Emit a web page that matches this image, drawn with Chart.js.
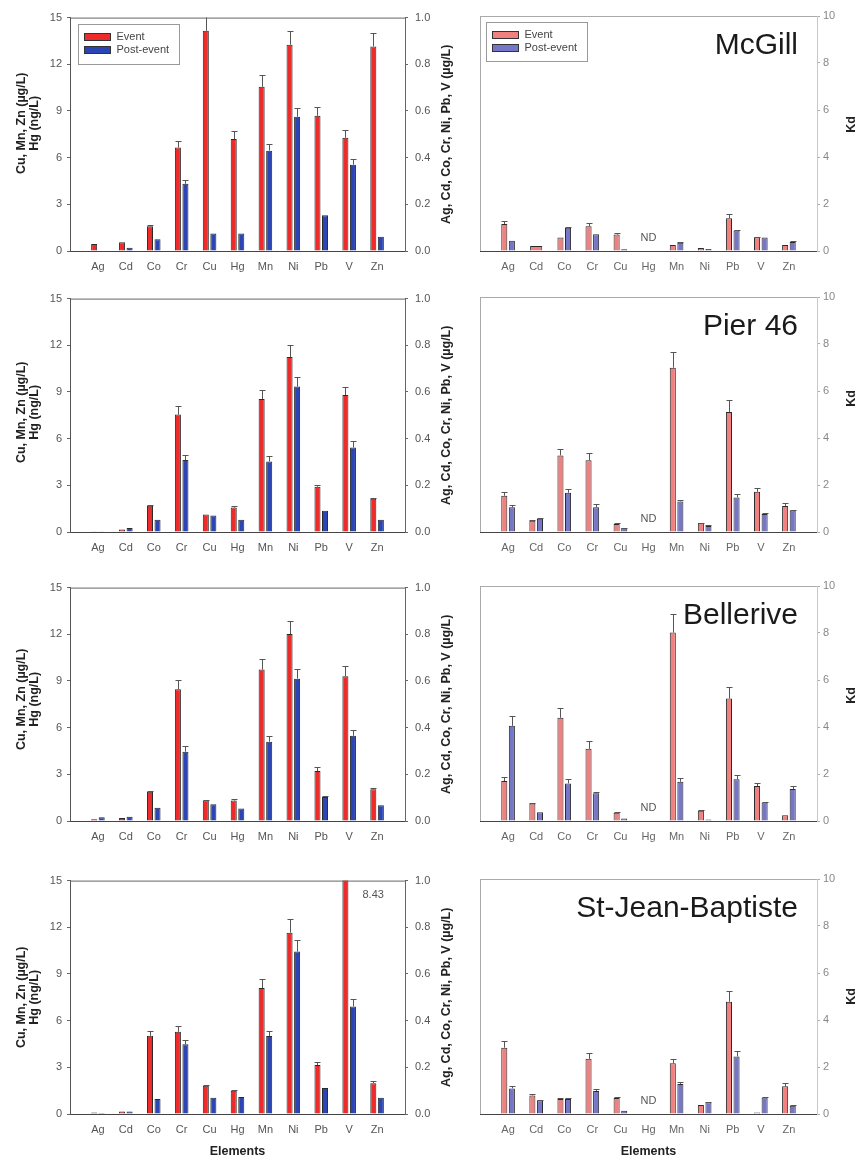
<!DOCTYPE html>
<html>
<head>
<meta charset="utf-8">
<script src="https://cdn.jsdelivr.net/npm/chart.js@4.4.0/dist/chart.umd.min.js"></script>
<style>
  body { margin: 0; background: #fff; width: 858px; height: 1159px; position: relative; overflow: hidden; }
  canvas { position: absolute; }
</style>
</head>
<body>
<canvas id="conc0" width="462" height="277" style="left:0;top:4px"></canvas>
<canvas id="kd0" width="396" height="277" style="left:462px;top:4px"></canvas>
<canvas id="conc1" width="462" height="277" style="left:0;top:285px"></canvas>
<canvas id="kd1" width="396" height="277" style="left:462px;top:285px"></canvas>
<canvas id="conc2" width="462" height="277" style="left:0;top:574px"></canvas>
<canvas id="kd2" width="396" height="277" style="left:462px;top:574px"></canvas>
<canvas id="conc3" width="462" height="292" style="left:0;top:867px"></canvas>
<canvas id="kd3" width="396" height="292" style="left:462px;top:867px"></canvas>
<script>
const elements = ['Ag', 'Cd', 'Co', 'Cr', 'Cu', 'Hg', 'Mn', 'Ni', 'Pb', 'V', 'Zn'];
// these four are read on the left axis (Cu, Mn, Zn in µg/L, Hg in ng/L), the rest on the right one (µg/L)
const leftAxisElements = ['Cu', 'Hg', 'Mn', 'Zn'];
const concTicks = [0, 3, 6, 9, 12, 15];
const concTicksRight = [0, 0.2, 0.4, 0.6, 0.8, 1.0];
const kdTicks = [0, 2, 4, 6, 8, 10];

// McGill
const mcgillEvent     = [0.030, 0.038, 0.106, 0.443, 14.15, 7.19, 10.55, 0.884, 0.579, 0.485, 13.15];
const mcgillEventErr  = [0, 0, 0.004, 0.030, 1.0, 0.51, 0.73, 0.059, 0.038, 0.035, 0.89];
const mcgillPost      = [0.002, 0.014, 0.050, 0.288, 1.13, 1.13, 6.45, 0.575, 0.153, 0.370, 0.91];
const mcgillPostErr   = [0, 0, 0, 0.017, 0, 0, 0.42, 0.039, 0, 0.024, 0];
const mcgillKdEvent    = [1.15, 0.21, 0.57, 1.05, 0.70, null, 0.26, 0.13, 1.39, 0.58, 0.26];
const mcgillKdEventErr = [0.14, 0, 0, 0.13, 0.08, 0, 0, 0, 0.17, 0.03, 0];
const mcgillKdPost     = [0.44, null, 0.99, 0.71, 0.07, null, 0.35, 0.08, 0.87, 0.57, 0.38];
const mcgillKdPostErr  = [0, 0, 0.03, 0, 0, 0, 0.03, 0, 0.03, 0, 0.03];

// Pier 46
const pierEvent     = [0.003, 0.011, 0.112, 0.503, 1.13, 1.57, 8.55, 0.750, 0.194, 0.587, 2.13];
const pierEventErr  = [0, 0, 0.003, 0.036, 0, 0.13, 0.60, 0.051, 0.006, 0.036, 0.08];
const pierPost      = [0.003, 0.017, 0.052, 0.308, 1.06, 0.79, 4.53, 0.623, 0.091, 0.362, 0.79];
const pierPostErr   = [0, 0, 0, 0.022, 0, 0, 0.34, 0.041, 0, 0.028, 0];
const pierKdEvent    = [1.54, 0.48, 3.26, 3.05, 0.34, null, 6.99, 0.38, 5.11, 1.71, 1.11];
const pierKdEventErr = [0.17, 0.03, 0.29, 0.31, 0.03, 0, 0.69, 0.02, 0.52, 0.17, 0.12];
const pierKdPost     = [1.05, 0.56, 1.67, 1.05, 0.17, null, 1.30, 0.26, 1.47, 0.77, 0.91];
const pierKdPostErr  = [0.09, 0.02, 0.17, 0.13, 0.02, 0, 0.08, 0.02, 0.15, 0.03, 0.04];

// Bellerive
const bellEvent     = [0.007, 0.013, 0.125, 0.564, 1.32, 1.32, 9.73, 0.801, 0.214, 0.620, 2.04];
const bellEventErr  = [0, 0, 0.002, 0.039, 0.02, 0.12, 0.70, 0.057, 0.017, 0.043, 0.09];
const bellPost      = [0.016, 0.018, 0.057, 0.297, 1.08, 0.81, 5.10, 0.610, 0.103, 0.365, 1.02];
const bellPostErr   = [0, 0, 0, 0.023, 0, 0, 0.34, 0.043, 0.004, 0.027, 0];
const bellKdEvent    = [1.70, 0.75, 4.39, 3.07, 0.35, null, 8.02, 0.44, 5.21, 1.49, 0.25];
const bellKdEventErr = [0.18, 0.03, 0.43, 0.33, 0.02, 0, 0.78, 0.02, 0.48, 0.11, 0];
const bellKdPost     = [4.05, 0.37, 1.60, 1.18, 0.11, null, 1.67, 0.06, 1.78, 0.79, 1.36];
const bellKdPostErr  = [0.41, 0, 0.18, 0.07, 0, 0, 0.17, 0, 0.17, 0.03, 0.11];

// St-Jean-Baptiste (V event = 8.43 µg/L, off scale)
const sjbEvent     = [0.006, 0.011, 0.335, 0.352, 1.81, 1.49, 8.09, 0.777, 0.210, 8.43, 1.98];
const sjbEventErr  = [0, 0, 0.022, 0.024, 0.03, 0.04, 0.59, 0.057, 0.014, 0, 0.15];
const sjbPost      = [0.004, 0.011, 0.064, 0.299, 1.04, 1.09, 5.02, 0.696, 0.111, 0.461, 1.04];
const sjbPostErr   = [0, 0, 0, 0.020, 0, 0, 0.34, 0.049, 0, 0.031, 0];
const sjbKdEvent    = [2.82, 0.79, 0.64, 2.35, 0.68, null, 2.16, 0.38, 4.78, 0.06, 1.18];
const sjbKdEventErr = [0.29, 0.08, 0.02, 0.25, 0.04, 0, 0.19, 0, 0.45, 0, 0.14];
const sjbKdPost     = [1.09, 0.58, 0.64, 0.98, 0.14, null, 1.28, 0.50, 2.45, 0.70, 0.35];
const sjbKdPostErr  = [0.11, 0.02, 0.03, 0.08, 0, 0, 0.10, 0.03, 0.23, 0.03, 0.03];

const FONT = '"Liberation Sans", Arial, Helvetica, sans-serif';
Chart.defaults.font.family = FONT;
Chart.defaults.font.size = 11;
Chart.defaults.animation = false;

// split one series into the part drawn on the left axis and the part on the right axis
function onAxis(values, left) {
    return values.map((v, i) => leftAxisElements.includes(elements[i]) === left ? v : null);
}

// leave one empty slot on each side of the elements, like the original figure
function padCategories(scale) {
    scale._startValue = -1;
    scale._valueRange = scale.getLabels().length + 1;
}

function bar(label, data, errors, color, axis) {
    return {
        label, data, errors, yAxisID: axis,
        backgroundColor: color, borderColor: '#2a2a2a', borderWidth: 1,
        categoryPercentage: 0.54, barPercentage: 0.8, skipNull: true, clip: 0
    };
}

function vText(ctx, text, x, y) {
    ctx.save();
    ctx.translate(x, y);
    ctx.rotate(-Math.PI / 2);
    ctx.textAlign = 'center';
    ctx.textBaseline = 'middle';
    ctx.fillText(text, 0, 0);
    ctx.restore();
}

function decor(spec) {
    return {
        id: 'decor',
        afterDatasetsDraw(chart) {
            const { ctx, chartArea: a } = chart;
            ctx.save();
            ctx.beginPath();
            ctx.rect(a.left, a.top, a.right - a.left, a.bottom - a.top);
            ctx.clip();
            ctx.strokeStyle = '#555';
            ctx.lineWidth = 1;
            chart.data.datasets.forEach((ds, di) => {
                const meta = chart.getDatasetMeta(di);
                const scale = chart.scales[ds.yAxisID];
                meta.data.forEach((el, i) => {
                    const v = ds.data[i], e = ds.errors[i];
                    if (v == null || !e) return;
                    const x = Math.round(el.x) + 0.5;
                    const yErr = Math.round(scale.getPixelForValue(v + e)) + 0.5;
                    ctx.beginPath();
                    ctx.moveTo(x, el.y);
                    ctx.lineTo(x, yErr);
                    ctx.moveTo(x - 3, yErr);
                    ctx.lineTo(x + 3, yErr);
                    ctx.stroke();
                });
            });
            ctx.restore();
        },
        afterDraw(chart) {
            const { ctx, chartArea: a } = chart;
            const midY = (a.top + a.bottom) / 2;
            const xScale = chart.scales.x;
            ctx.save();

            ctx.lineWidth = 1;
            ctx.strokeStyle = spec.frame;
            ctx.beginPath();
            ctx.moveTo(a.left, a.top + 0.5);
            ctx.lineTo(a.right, a.top + 0.5);
            if (spec.leftLine) {
                ctx.moveTo(a.left + 0.5, a.top);
                ctx.lineTo(a.left + 0.5, a.bottom);
            }
            ctx.stroke();

            ctx.fillStyle = '#222';
            ctx.font = 'bold 12.5px ' + FONT;
            if (spec.leftTitle) {
                spec.leftTitle.forEach((t, k) => vText(ctx, t, spec.leftTitleX[k], midY + spec.leftShift));
            }
            if (spec.rightTitle) vText(ctx, spec.rightTitle, spec.rightTitleX, midY + (spec.rightShift || 0));
            if (spec.xTitle) {
                ctx.textAlign = 'center';
                ctx.textBaseline = 'middle';
                ctx.fillText(spec.xTitle, (a.left + a.right) / 2, a.bottom + 38);
            }

            if (spec.station) {
                ctx.font = '30px ' + FONT;
                ctx.fillStyle = '#1a1a1a';
                ctx.textAlign = 'right';
                ctx.textBaseline = 'alphabetic';
                ctx.fillText(spec.station, a.right - 19, a.top + 38);
            }

            ctx.font = '11px ' + FONT;
            ctx.fillStyle = '#555';
            ctx.textAlign = 'center';
            ctx.textBaseline = 'middle';
            if (spec.nd) ctx.fillText('ND', xScale.getPixelForValue(elements.indexOf(spec.nd)), a.bottom - 13);
            if (spec.note) {
                const n = spec.note;
                ctx.fillText(n.text, xScale.getPixelForValue(elements.indexOf(n.cat)) + n.dx, a.top + n.dy);
            }

            if (spec.legend) {
                const L = spec.legend;
                const x0 = Math.round(a.left + L.dx) + 0.5, y0 = Math.round(a.top + L.dy) + 0.5;
                ctx.strokeStyle = '#999';
                ctx.strokeRect(x0, y0, L.w, L.h);
                const sets = chart.data.datasets;
                [sets[0], sets[sets.length - 1]].forEach((ds, k) => {
                    const cy = Math.round(y0 + 12 + k * 13);
                    ctx.fillStyle = ds.backgroundColor;
                    ctx.fillRect(x0 + 6, cy - 3.5, 26, 7);
                    ctx.strokeStyle = '#333';
                    ctx.strokeRect(x0 + 6, cy - 3.5, 26, 7);
                    ctx.fillStyle = '#444';
                    ctx.textAlign = 'left';
                    ctx.fillText(ds.label, x0 + 38, cy);
                });
            }
            ctx.restore();
        }
    };
}

function xAxis(height, color) {
    return {
        offset: false,
        afterBuildTicks: padCategories,
        afterFit: s => { s.height = height; },
        grid: { display: false, drawTicks: false },
        border: { color: '#444' },
        ticks: { color, padding: 9, font: { size: 11 } }
    };
}

function concChart(id, event, eventErr, post, postErr, spec, xHeight) {
    new Chart(document.getElementById(id), {
        type: 'bar',
        data: {
            labels: elements,
            datasets: [
                bar('Event', onAxis(event, true), onAxis(eventErr, true), '#ee2b2b', 'y'),
                bar('Event', onAxis(event, false), onAxis(eventErr, false), '#ee2b2b', 'y2'),
                bar('Post-event', onAxis(post, true), onAxis(postErr, true), '#2b46b4', 'y'),
                bar('Post-event', onAxis(post, false), onAxis(postErr, false), '#2b46b4', 'y2')
            ]
        },
        options: {
            responsive: false,
            layout: { padding: { top: 12, left: 0, right: 0, bottom: 0 } },
            plugins: { legend: { display: false }, tooltip: { enabled: false } },
            scales: {
                x: xAxis(xHeight, '#555'),
                y: {
                    position: 'left', min: concTicks[0], max: concTicks[concTicks.length - 1],
                    afterBuildTicks: s => { s.ticks = concTicks.map(value => ({ value })); },
                    afterFit: s => { s.width = 70; },
                    grid: { drawOnChartArea: false, tickLength: 3, color: '#666' },
                    border: { color: '#555' },
                    ticks: { color: '#555', padding: 5 }
                },
                y2: {
                    position: 'right', min: concTicksRight[0], max: concTicksRight[concTicksRight.length - 1],
                    afterBuildTicks: s => { s.ticks = concTicksRight.map(value => ({ value })); },
                    afterFit: s => { s.width = 57; },
                    grid: { drawOnChartArea: false, tickLength: 3, color: '#666' },
                    border: { color: '#666' },
                    ticks: { color: '#555', padding: 7, callback: v => v.toFixed(1) }
                }
            }
        },
        plugins: [decor(spec)]
    });
}

function kdChart(id, event, eventErr, post, postErr, spec, xHeight) {
    new Chart(document.getElementById(id), {
        type: 'bar',
        data: {
            labels: elements,
            datasets: [
                bar('Event', event, eventErr, '#f2807e', 'y'),
                bar('Post-event', post, postErr, '#7676c8', 'y')
            ]
        },
        options: {
            responsive: false,
            layout: { padding: { top: 12, left: 18, right: 0, bottom: 0 } },
            plugins: { legend: { display: false }, tooltip: { enabled: false } },
            scales: {
                x: xAxis(xHeight, '#666'),
                y: {
                    position: 'right', min: kdTicks[0], max: kdTicks[kdTicks.length - 1],
                    afterBuildTicks: s => { s.ticks = kdTicks.map(value => ({ value })); },
                    afterFit: s => { s.width = 41; },
                    grid: { drawOnChartArea: false, tickLength: 3, color: '#aaa' },
                    border: { color: '#c8c8c8' },
                    ticks: { color: '#888', padding: 3 }
                }
            }
        },
        plugins: [decor(spec)]
    });
}

const leftTitle = ['Cu, Mn, Zn (µg/L)', 'Hg (ng/L)'];
const rightTitle = 'Ag, Cd, Co, Cr, Ni, Pb, V (µg/L)';

function concSpec(shift, extra) {
    return Object.assign({
        frame: '#666', leftTitle, leftTitleX: [22, 35], leftShift: shift,
        rightTitle, rightTitleX: 447
    }, extra);
}
function kdSpec(station, shift, extra) {
    return Object.assign({
        frame: '#aaa', leftLine: true, station, nd: 'Hg',
        rightTitle: 'Kd', rightTitleX: 390, rightShift: shift
    }, extra);
}

concChart('conc0', mcgillEvent, mcgillEventErr, mcgillPost, mcgillPostErr,
    concSpec(-11, { legend: { dx: 8, dy: 6, w: 101, h: 40 } }), 30);
kdChart('kd0', mcgillKdEvent, mcgillKdEventErr, mcgillKdPost, mcgillKdPostErr,
    kdSpec('McGill', -9, { legend: { dx: 6, dy: 6, w: 101, h: 39 } }), 30);

concChart('conc1', pierEvent, pierEventErr, pierPost, pierPostErr, concSpec(-3), 30);
kdChart('kd1', pierKdEvent, pierKdEventErr, pierKdPost, pierKdPostErr, kdSpec('Pier 46', -16), 30);

concChart('conc2', bellEvent, bellEventErr, bellPost, bellPostErr, concSpec(-5), 30);
kdChart('kd2', bellKdEvent, bellKdEventErr, bellKdPost, bellKdPostErr, kdSpec('Bellerive', -8), 30);

concChart('conc3', sjbEvent, sjbEventErr, sjbPost, sjbPostErr,
    concSpec(0, { xTitle: 'Elements', note: { text: '8.43', cat: 'V', dx: 24, dy: 14 } }), 45);
kdChart('kd3', sjbKdEvent, sjbKdEventErr, sjbKdPost, sjbKdPostErr,
    kdSpec('St-Jean-Baptiste', 0, { xTitle: 'Elements' }), 45);
</script>
</body>
</html>
